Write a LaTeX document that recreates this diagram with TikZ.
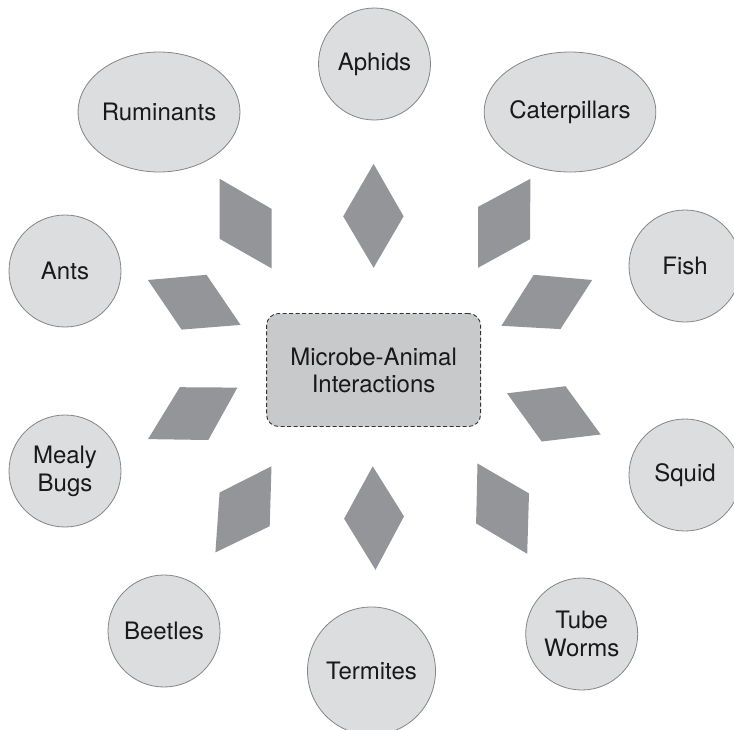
\documentclass[tikz,border=0pt]{standalone}
\usepackage{fontspec}
\setmainfont{TeX Gyre Heros}
\usetikzlibrary{shapes.geometric}
\definecolor{circfill}{HTML}{DCDDDF}
\definecolor{circline}{HTML}{858585}
\definecolor{para}{HTML}{939598}
\definecolor{boxfill}{HTML}{C8C9CB}
\definecolor{boxline}{HTML}{333333}
\tikzset{
  animal/.style={circle, fill=circfill, draw=circline, line width=0.8pt,
    minimum size=112pt, inner sep=0pt, align=center,
    font=\fontsize{24}{28}\selectfont, text=black!90},
  animalov/.style={ellipse, fill=circfill, draw=circline, line width=0.8pt,
    minimum width=157pt, minimum height=120pt, inner sep=0pt, align=center,
    font=\fontsize{24}{28}\selectfont, text=black!90},
  hub/.style={rectangle, rounded corners=12pt, fill=boxfill, draw=boxline,
    line width=0.9pt, dash pattern=on 4pt off 2.5pt, minimum width=214pt,
    minimum height=113pt, align=center, font=\fontsize{24}{27}\selectfont, text=black!90},
  plate/.style={fill=para}
}
\begin{document}
\begin{tikzpicture}[x=1pt,y=-1pt]
\useasboundingbox (0,0) rectangle (734,729);
\clip (0,0) rectangle (734,729);
% centre
\node[hub] (hub) at (373.6,370) {Microbe-Animal\\Interactions};
% animals
\node[animal] (aphids) at (374.5,64) {Aphids};
\node[animalov] (rum) at (159,112) {Ruminants};
\node[animalov] (cat) at (570,112) {Caterpillars};
\node[animal] (ants) at (65,271) {Ants};
\node[animal] (fish) at (685,266) {Fish};
\node[animal] (mealy) at (65,471) {Mealy\\Bugs};
\node[animal] (squid) at (685,475) {Squid};
\node[animal] (beetles) at (164,631) {Beetles};
\node[animal, minimum size=128pt] (termites) at (371.5,671) {Termites};
\node[animal] (tube) at (581.7,634) {Tube\\Worms};
% parallelograms
\fill[plate] (373.6,163.9) -- (403.6,216.3) -- (373.6,267.8) -- (343.2,216.3) -- cycle;
\fill[plate] (372.7,466.3) -- (404,516.4) -- (375.5,569.8) -- (344.1,518.7) -- cycle;
\fill[plate] (219.6,178.8) -- (271.5,208.8) -- (271.5,268.3) -- (219.6,238.8) -- cycle;
\fill[plate] (530.4,178.8) -- (478,206.9) -- (478,267.8) -- (530,239.2) -- cycle;
\fill[plate] (147.9,280) -- (206.5,274.8) -- (240.6,324.9) -- (181.6,329.6) -- cycle;
\fill[plate] (533.7,274.8) -- (592.2,280) -- (560.4,329.1) -- (501.4,325.8) -- cycle;
\fill[plate] (179.8,387.2) -- (237.4,387.6) -- (208.3,440) -- (148,439.1) -- cycle;
\fill[plate] (507,393.3) -- (565.5,386.2) -- (600.7,434.5) -- (541.7,441.5) -- cycle;
\fill[plate] (271.5,466.3) -- (269.7,526.2) -- (215.4,552.4) -- (219.6,492.5) -- cycle;
\fill[plate] (477.5,463.5) -- (529,493.4) -- (527.2,553.8) -- (476.1,523.4) -- cycle;
\end{tikzpicture}
\end{document}
